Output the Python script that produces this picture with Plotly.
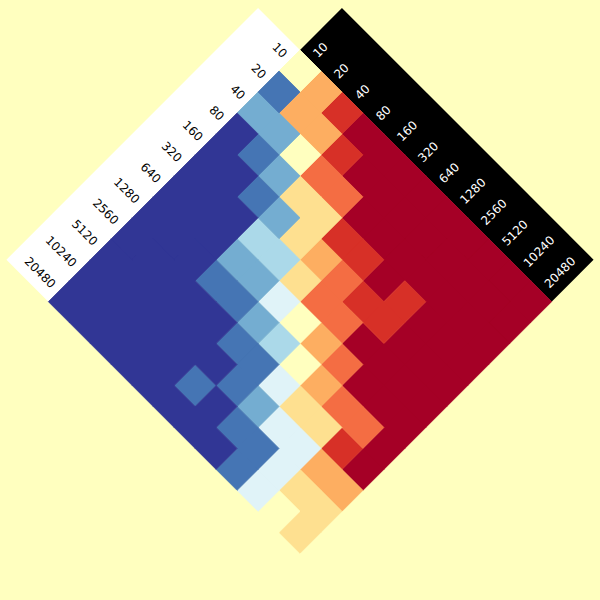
import plotly.graph_objects as go

# axis labels (rows along the upper-left edge, columns along the upper-right edge)
labels = ["10", "20", "40", "80", "160", "320", "640", "1280", "2560", "5120", "10240", "20480"]

# 11-class RdYlBu palette, index = class value
palette = ["#a50026", "#d73027", "#f46d43", "#fdae61", "#fee090", "#ffffbf",
           "#e0f3f8", "#abd9e9", "#74add1", "#4575b4", "#313695"]

# class value of each cell, values[row][col]
values = [
    [5, 3, 1, 0, 0, 0, 0, 0, 0, 0, 0, 0],
    [9, 3, 3, 1, 0, 0, 0, 0, 0, 0, 0, 0],
    [8, 8, 5, 2, 2, 0, 0, 0, 0, 0, 0, 0],
    [10, 9, 8, 4, 4, 1, 1, 0, 1, 0, 0, 0],
    [10, 10, 9, 8, 4, 3, 2, 1, 1, 0, 0, 0],
    [10, 10, 10, 7, 7, 4, 2, 2, 0, 0, 0, 0],
    [10, 10, 10, 8, 8, 6, 5, 3, 2, 0, 0, 0],
    [10, 10, 10, 9, 9, 8, 7, 5, 3, 2, 2, 0],
    [10, 10, 10, 10, 10, 9, 9, 6, 4, 4, 1, 0],
    [10, 10, 10, 10, 10, 10, 9, 8, 6, 6, 3, 3],
    [10, 10, 10, 10, 10, 9, 10, 9, 9, 6, 4, 4],
    [10, 10, 10, 10, 10, 10, 10, 10, 9, 6, 5, 4],
]

BG = "#ffffbf"
n = len(labels)


def rot(a, b):
    """grid (row a, col b) -> rotated plot coordinates (45 degrees)"""
    return b - a, a + b


fig = go.Figure()

# bands behind the labels
def band(a0, a1, b0, b1, color):
    pts = [rot(a0, b0), rot(a0, b1), rot(a1, b1), rot(a1, b0), rot(a0, b0)]
    fig.add_trace(go.Scatter(x=[p[0] for p in pts], y=[p[1] for p in pts],
                             mode="lines", fill="toself", fillcolor=color,
                             line=dict(width=0, color=color), hoverinfo="skip"))

band(0, n, -2, 0, "white")
band(-2, 0, 0, n, "black")

# cells, one trace per colour class
for c, col in enumerate(palette):
    xs, ys = [], []
    for i in range(n):
        for j in range(n):
            if values[i][j] != c:
                continue
            for a, b in [(i, j), (i, j + 1), (i + 1, j + 1), (i + 1, j), (i, j)]:
                X, Y = rot(a, b)
                xs.append(X)
                ys.append(Y)
            xs.append(None)
            ys.append(None)
    if xs:
        fig.add_trace(go.Scatter(x=xs, y=ys, mode="lines", fill="toself",
                                 fillcolor=col, line=dict(width=0.8, color=col),
                                 hoverinfo="skip"))

annotations = []
for i, lab in enumerate(labels):
    X, Y = rot(i + 0.5, 0)
    annotations.append(dict(x=X, y=Y, xref="x", yref="y", text=lab, showarrow=False,
                            textangle=45, xanchor="right", yanchor="bottom",
                            borderpad=0, borderwidth=0,
                            font=dict(family="DejaVu Sans", size=12, color="black")))
for j, lab in enumerate(labels):
    X, Y = rot(0, j + 0.5)
    annotations.append(dict(x=X, y=Y, xref="x", yref="y", text=lab, showarrow=False,
                            textangle=-45, xanchor="left", yanchor="bottom",
                            borderpad=0, borderwidth=0,
                            font=dict(family="DejaVu Sans", size=12, color="white")))

s = 20.97  # pixels per grid step
fig.update_layout(
    width=600, height=600,
    margin=dict(l=0, r=0, t=0, b=0),
    paper_bgcolor=BG, plot_bgcolor=BG,
    showlegend=False,
    xaxis=dict(visible=False, range=[-300 / s, 300 / s], fixedrange=True),
    yaxis=dict(visible=False, range=[550 / s, -50 / s], fixedrange=True),
    annotations=annotations,
)

fig.write_html(
    "out.html",
    config={"displayModeBar": False},
    post_script="document.body.style.margin='0';document.body.style.padding='0';"
                "document.body.style.overflow='hidden';"
                "document.body.style.background='" + BG + "';",
)
